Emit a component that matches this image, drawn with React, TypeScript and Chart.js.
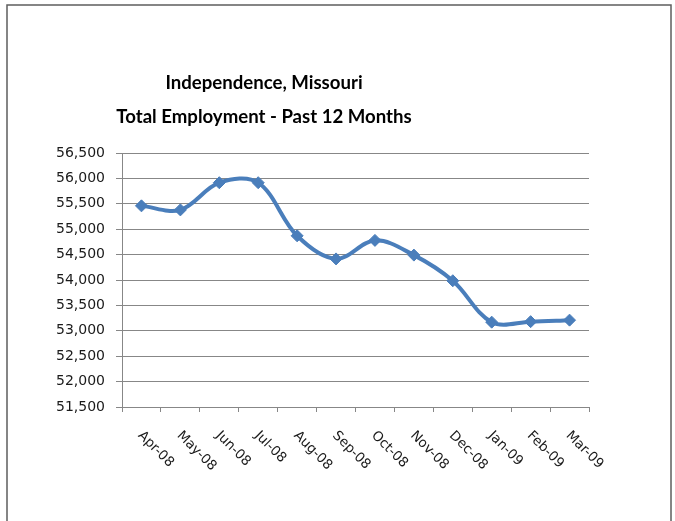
import { useEffect, useRef } from "react";
import { Chart, registerables } from "chart.js";

Chart.register(...registerables);

const titleLines = ["Independence, Missouri", "Total Employment - Past 12 Months"];
const months = [
  "Apr-08", "May-08", "Jun-08", "Jul-08", "Aug-08", "Sep-08",
  "Oct-08", "Nov-08", "Dec-08", "Jan-09", "Feb-09", "Mar-09",
];
const employment = [
  55460, 55380, 55915, 55915, 54870, 54415,
  54780, 54490, 53985, 53170, 53180, 53210,
];
const yMin = 51500;
const yMax = 56500;
const yStep = 500;

const LINE_BLUE = "#4A7EBB";
const GRID = "#878787";

const framePlugin = {
  id: "frame",
  beforeDraw(chart: any) {
    const ctx = chart.ctx;
    ctx.save();
    ctx.fillStyle = "#ffffff";
    ctx.fillRect(0, 0, chart.width, chart.height);
    ctx.strokeStyle = "#5e5e5e";
    ctx.lineWidth = 1.5;
    ctx.strokeRect(7, 5, 664, 560);
    ctx.restore();
  },
};

const titlePlugin = {
  id: "customTitle",
  afterDraw(chart: any) {
    const ctx = chart.ctx;
    ctx.save();
    ctx.fillStyle = "#000000";
    ctx.font = "bold 18.6px Lato, 'Liberation Sans', sans-serif";
    ctx.textAlign = "center";
    ctx.textBaseline = "middle";
    titleLines.forEach((line, i) => {
      ctx.fillText(line, 264, 83 + i * 34);
    });
    ctx.restore();
  },
};

const xLabelPlugin = {
  id: "rotatedXLabels",
  afterDraw(chart: any) {
    const ctx = chart.ctx;
    const xs = chart.scales.x;
    const labels = chart.data.labels as string[];
    ctx.save();
    ctx.fillStyle = "#1a1a1a";
    ctx.font = "13.5px 'DejaVu Sans', sans-serif";
    ctx.textAlign = "left";
    ctx.textBaseline = "middle";
    labels.forEach((lab, i) => {
      const px = xs.getPixelForValue(i);
      ctx.save();
      ctx.translate(px - 1.5, xs.top + 26.5);
      ctx.rotate(Math.PI / 4);
      ctx.fillText(lab, 0, 0);
      ctx.restore();
    });
    ctx.restore();
  },
};

export default function App() {
  const ref = useRef<HTMLCanvasElement | null>(null);

  useEffect(() => {
    if (!ref.current) return;
    const chart = new Chart(ref.current, {
      type: "line",
      data: {
        labels: months,
        datasets: [
          {
            data: employment,
            borderColor: LINE_BLUE,
            backgroundColor: LINE_BLUE,
            borderWidth: 4,
            tension: 0.35,
            fill: false,
            pointStyle: "rectRot",
            pointRadius: 6,
            pointBorderWidth: 1,
            pointBackgroundColor: LINE_BLUE,
            pointBorderColor: LINE_BLUE,
          },
        ],
      },
      options: {
        animation: false,
        responsive: false,
        layout: { padding: { top: 153, left: 0, right: 86, bottom: 0 } },
        plugins: {
          legend: { display: false },
          title: { display: false },
          tooltip: { enabled: false },
        },
        scales: {
          x: {
            type: "category",
            offset: true,
            afterFit: (scale: any) => {
              scale.height = 114;
            },
            grid: {
              display: true,
              offset: true,
              drawOnChartArea: false,
              drawTicks: true,
              tickLength: 5,
              color: GRID,
              lineWidth: 1,
            },
            border: { display: true, color: GRID, width: 1 },
            ticks: { display: false },
          },
          y: {
            min: yMin,
            max: yMax,
            afterFit: (scale: any) => {
              scale.width = 122;
            },
            grid: {
              color: GRID,
              lineWidth: 1,
              drawTicks: true,
              tickLength: 6,
            },
            border: { display: true, color: GRID, width: 1 },
            ticks: {
              stepSize: yStep,
              padding: 11,
              color: "#1a1a1a",
              font: { family: "'DejaVu Sans', sans-serif", size: 14 },
              callback: (v: any) => Number(v).toLocaleString("en-US"),
            },
          },
        },
      },
      plugins: [framePlugin, titlePlugin, xLabelPlugin],
    });
    return () => chart.destroy();
  }, []);

  return (
    <div style={{ position: "absolute", left: 0, top: 0, width: 675, height: 521 }}>
      <canvas ref={ref} width={675} height={521} style={{ display: "block", width: 675, height: 521 }} />
    </div>
  );
}
